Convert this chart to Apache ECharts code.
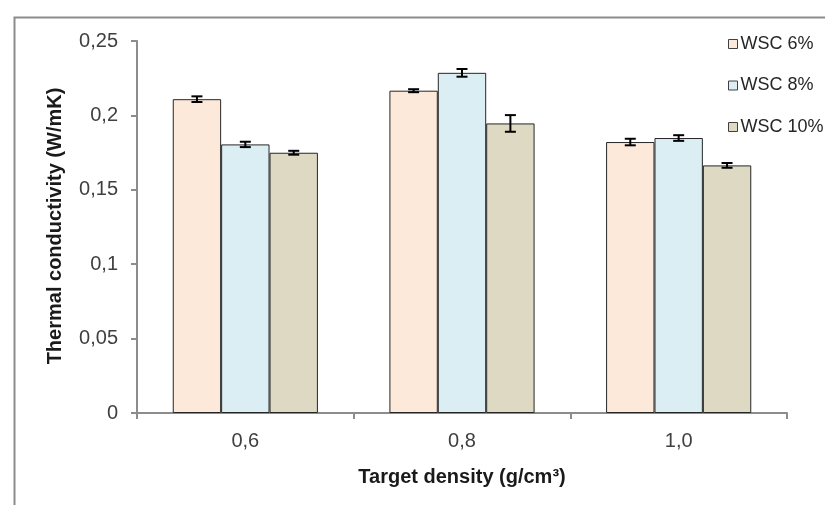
<!DOCTYPE html>
<html>
<head>
<meta charset="utf-8">
<script src="https://cdn.jsdelivr.net/npm/echarts@6/dist/echarts.min.js"></script>
<style>
html,body{margin:0;padding:0;background:#fff;}
#chart{width:825px;height:505px;}
</style>
</head>
<body>
<div id="chart"></div>
<script>
var categories = ['0,6', '0,8', '1,0'];
var seriesNames = ['WSC 6%', 'WSC 8%', 'WSC 10%'];
var wsc6 = [0.2109, 0.2166, 0.1821];
var wsc8 = [0.1805, 0.2286, 0.1848];
var wsc10 = [0.1749, 0.1946, 0.1664];
var err6 = [0.0019, 0.0010, 0.0022];
var err8 = [0.0018, 0.0026, 0.0019];
var err10 = [0.0013, 0.0056, 0.0016];
var yTicks = [0, 0.05, 0.1, 0.15, 0.2, 0.25];
var colors = ['#FDE9D9', '#DAEEF3', '#DDD9C3'];

var values = [wsc6, wsc8, wsc10];
var errors = [err6, err8, err10];
var catGap = 0.33;

var chart = echarts.init(document.getElementById('chart'));
var FONT = '"Liberation Sans", Arial, sans-serif';

function errSeries(k) {
  var data = values[k].map(function (v, i) { return [i, v, errors[k][i]]; });
  return {
    type: 'custom',
    name: seriesNames[k] + ' err',
    z: 10,
    data: data,
    renderItem: function (params, api) {
      var ci = api.value(0), v = api.value(1), e = api.value(2);
      var band = api.size([1, 0])[0];
      var bw = band * (1 - catGap) / 3;
      var c = api.coord([ci, v]);
      var x = c[0] + (k - 1) * bw;
      var yTop = api.coord([ci, v + e])[1];
      var yBot = api.coord([ci, v - e])[1];
      var cap = 5.5;
      var st = { stroke: '#000', lineWidth: 2 };
      return {
        type: 'group',
        children: [
          { type: 'line', shape: { x1: x, y1: yTop, x2: x, y2: yBot }, style: st },
          { type: 'line', shape: { x1: x - cap, y1: yTop, x2: x + cap, y2: yTop }, style: st },
          { type: 'line', shape: { x1: x - cap, y1: yBot, x2: x + cap, y2: yBot }, style: st }
        ]
      };
    }
  };
}

var series = [];
for (var k = 0; k < 3; k++) {
  series.push({
    type: 'bar',
    name: seriesNames[k],
    data: values[k],
    barGap: '0%',
    barCategoryGap: (catGap * 100) + '%',
    itemStyle: { color: colors[k], borderColor: '#262626', borderWidth: 1 }
  });
}
for (var k2 = 0; k2 < 3; k2++) series.push(errSeries(k2));

chart.setOption({
  animation: false,
  backgroundColor: '#fff',
  textStyle: { fontFamily: FONT },
  grid: { left: 137, right: 38, top: 41, bottom: 92, containLabel: false },
  legend: {
    data: seriesNames,
    orient: 'vertical',
    left: 723,
    top: 30,
    itemWidth: 9,
    itemHeight: 9,
    itemGap: 23.5,
    icon: 'rect',
    textStyle: { fontSize: 18, color: '#262626', fontFamily: FONT, padding: [0, 0, 0, -2] },
    itemStyle: { borderColor: '#404040', borderWidth: 1 }
  },
  xAxis: {
    type: 'category',
    data: categories,
    axisLine: { lineStyle: { color: '#8c8c8c', width: 2 } },
    axisTick: { show: true, length: 6, alignWithLabel: false, lineStyle: { color: '#8c8c8c', width: 2 } },
    axisLabel: { fontSize: 20, color: '#404040', margin: 18, fontFamily: FONT },
    splitLine: { show: false }
  },
  yAxis: {
    type: 'value',
    min: 0,
    max: 0.25,
    interval: 0.05,
    axisLine: { show: true, lineStyle: { color: '#8c8c8c', width: 2 } },
    axisTick: { show: true, length: 6, lineStyle: { color: '#8c8c8c', width: 2 } },
    axisLabel: {
      fontSize: 20, color: '#404040', margin: 19, fontFamily: FONT,
      formatter: function (v) {
        var best = yTicks.reduce(function (a, b) { return Math.abs(b - v) < Math.abs(a - v) ? b : a; });
        return String(best).replace('.', ',');
      }
    },
    splitLine: { show: false }
  },
  graphic: [
    { type: 'rect', left: 12, top: 15, shape: { x: 0, y: 0, width: 900, height: 600 },
      style: { fill: 'none', stroke: '#8c8c8c', lineWidth: 2 }, silent: true, z: -1 },
    { type: 'text', x: 55, y: 226, rotation: Math.PI / 2,
      style: { text: 'Thermal conductivity (W/mK)', font: 'bold 20px ' + FONT, fill: '#1a1a1a',
               textAlign: 'center', textVerticalAlign: 'middle' } },
    { type: 'text', x: 462, y: 477,
      style: { text: 'Target density (g/cm³)', font: 'bold 20px ' + FONT, fill: '#1a1a1a',
               textAlign: 'center', textVerticalAlign: 'middle' } }
  ],
  series: series
});
</script>
</body>
</html>
